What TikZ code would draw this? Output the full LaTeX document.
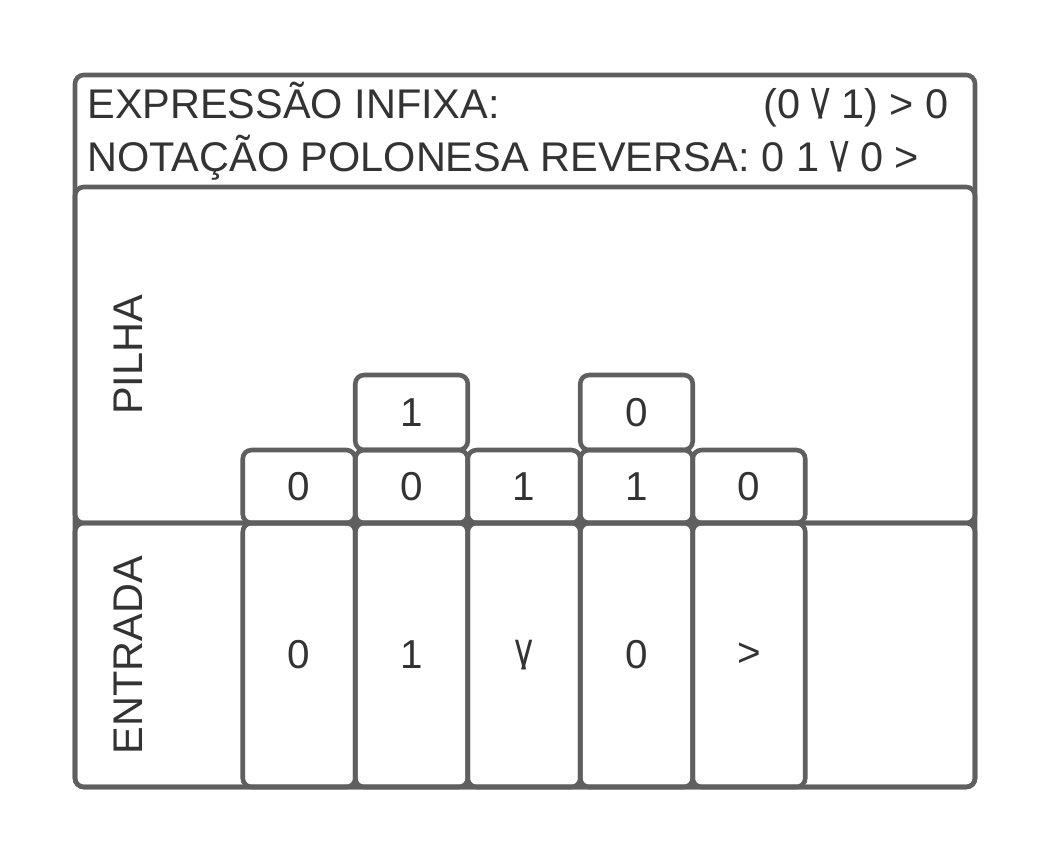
\documentclass[tikz,border=0pt]{standalone}
\usepackage{fontspec}
\setmainfont{Liberation Sans}
\newcommand{\vou}{\textbackslash\kern-0.12em/}
\tikzset{
  frame/.style={draw=linegray,line width=2.6pt,rounded corners=5pt},
  cell/.style={frame,minimum width=2.25cm,inner sep=0pt,text=textgray,font=\fontsize{23}{27}\selectfont},
  label/.style={text=textgray,font=\fontsize{23.6}{28}\selectfont,inner sep=0pt}
}
\definecolor{linegray}{HTML}{5F5F5F}
\definecolor{textgray}{HTML}{333333}
\begin{document}
\begin{tikzpicture}[x=0.02cm,y=-0.02cm]
        % Definition
        \pgfmathsetmacro{\cw}{112.5}
        \pgfmathsetmacro{\xo}{299}

        \useasboundingbox (0,0) rectangle (1050,863);

        % Draw the frames
        \draw[frame] (75,75) rectangle (975,787);
        \draw[frame] (75,187) rectangle (975,523);
        \draw[frame] (75,523) rectangle (975,787);

        % Header
        \node[label,anchor=base west] (infixa) at (87,118) {EXPRESSÃO INFIXA:};
        \node[label,anchor=base east] (expr) at (949,118) {(0 \vou{} 1) > 0};
        \node[label,anchor=base west] (rpn) at (87,171) {NOTAÇÃO POLONESA REVERSA: 0 1 \vou{} 0 >};

        % Side labels
        \node[label,rotate=90] (pilha) at (128,355) {PILHA};
        \node[label,rotate=90] (entrada) at (128,655) {ENTRADA};

        % Input tokens
        \foreach \t [count=\i from 0] in {0,1,\vou,0,>}
          \node[cell,minimum height=5.28cm] (in\i) at (\xo+\cw*\i,655) {\t};

        % Stack, bottom row
        \foreach \t [count=\i from 0] in {0,0,1,1,0}
          \node[cell,minimum height=1.46cm] (sb\i) at (\xo+\cw*\i,486.5) {\t};

        % Stack, top row
        \node[cell,minimum height=1.5cm] (st1) at (\xo+\cw,412.5) {1};
        \node[cell,minimum height=1.5cm] (st3) at (\xo+\cw*3,412.5) {0};
\end{tikzpicture}
\end{document}
